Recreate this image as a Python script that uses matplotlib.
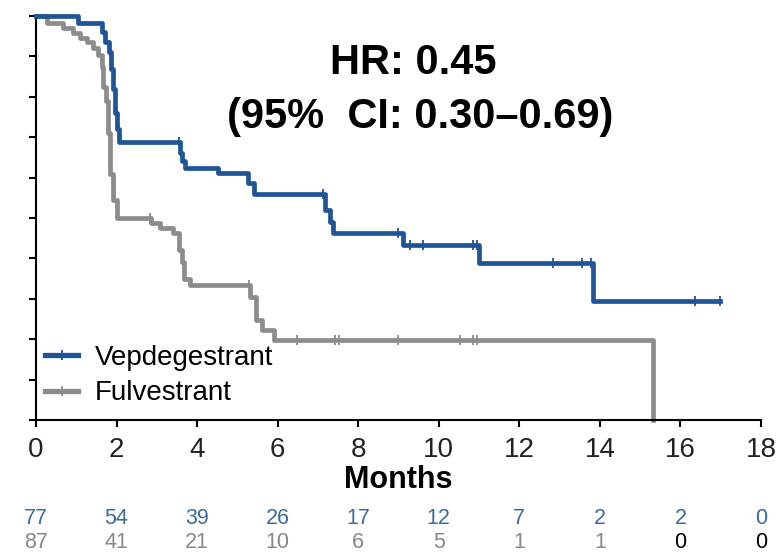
import matplotlib.pyplot as plt
import numpy as np
from matplotlib.lines import Line2D
import matplotlib.transforms as mtransforms

# Kaplan-Meier steps
vep_t = [0, 1.04, 1.65, 1.72, 1.80, 1.85, 1.90, 1.95, 2.00, 2.05, 3.57, 3.62, 3.70,
         4.52, 5.26, 5.42, 7.17, 7.30, 7.37, 9.12, 11.0, 13.82, 16.97]
vep_s = [1.0, 0.983, 0.96, 0.935, 0.91, 0.87, 0.82, 0.76, 0.72, 0.688, 0.66, 0.64, 0.624,
         0.611, 0.587, 0.56, 0.52, 0.49, 0.463, 0.433, 0.389, 0.295, 0.295]
vep_cens = [3.55, 7.12, 8.98, 9.28, 9.6, 10.84, 10.95, 12.83, 13.55, 13.78, 16.35, 16.97]

ful_t = [0, 0.27, 0.67, 0.92, 1.09, 1.27, 1.41, 1.54, 1.64, 1.67, 1.74, 1.79, 1.84, 1.91,
         2.0, 2.85, 3.08, 3.40, 3.55, 3.62, 3.67, 3.82, 5.32, 5.45, 5.6, 5.9, 15.31]
ful_s = [1.0, 0.983, 0.97, 0.958, 0.945, 0.936, 0.92, 0.903, 0.874, 0.824, 0.79, 0.71, 0.61,
         0.545, 0.5, 0.487, 0.475, 0.462, 0.42, 0.39, 0.35, 0.334, 0.305, 0.247, 0.223,
         0.198, 0.0]
ful_cens = [2.83, 5.3, 6.47, 7.42, 7.52, 8.99, 10.52, 10.84, 10.94]

risk_months = [0, 2, 4, 6, 8, 10, 12, 14, 16, 18]
vep_risk = [77, 54, 39, 26, 17, 12, 7, 2, 2, 0]
ful_risk = [87, 41, 21, 10, 6, 5, 1, 1, 0, 0]

blue = '#1f5596'
gray = '#8c8c8c'
font = 'Liberation Sans'


def surv_at(times, surv, t):
    idx = np.searchsorted(times, t, side='right') - 1
    return np.asarray(surv)[idx]


fig = plt.figure(figsize=(7.81, 5.53), dpi=100)
ax = fig.add_axes([36 / 781, 1 - 420 / 553, 725 / 781, 404 / 553])

ax.step(ful_t, ful_s, where='post', color=gray, lw=3.4, clip_on=False, zorder=2)
ax.plot(ful_cens, surv_at(ful_t, ful_s, ful_cens), ls='none', marker='|',
        ms=7, mew=1.3, color=gray, clip_on=False, zorder=2)
ax.step(vep_t, vep_s, where='post', color=blue, lw=3.4, clip_on=False, zorder=3)
ax.plot(vep_cens, surv_at(vep_t, vep_s, vep_cens), ls='none', marker='|',
        ms=7, mew=1.3, color=blue, clip_on=False, zorder=3)

ax.set_xlim(0, 18)
ax.set_ylim(0, 1)
ax.spines['top'].set_visible(False)
ax.spines['right'].set_visible(False)
ax.spines['left'].set_linewidth(1.5)
ax.spines['bottom'].set_linewidth(1.5)
ax.set_xticks(risk_months)
ax.set_yticks(np.arange(0, 1.01, 0.1))
ax.set_yticklabels([])
ax.tick_params(axis='both', direction='out', length=5, width=1.5)
ax.tick_params(axis='x', pad=7)
for lab in ax.get_xticklabels():
    lab.set_fontfamily(font)
    lab.set_fontsize(20)
    lab.set_color('#222222')

ax.set_xlabel('Months', fontfamily=font, fontweight='bold', fontsize=22, labelpad=2)

ax.text(0.52, 0.884, 'HR: 0.45', transform=ax.transAxes, ha='center', va='center',
        fontsize=30, fontweight='bold', fontfamily=font)
ax.text(0.53, 0.75, '(95%  CI: 0.30\u20130.69)', transform=ax.transAxes, ha='center',
        va='center', fontsize=30, fontweight='bold', fontfamily=font)

handles = [Line2D([0], [0], color=blue, lw=3.8, marker='|', ms=7, mew=1.3),
           Line2D([0], [0], color=gray, lw=3.8, marker='|', ms=7, mew=1.3)]
ax.legend(handles, ['Vepdegestrant', 'Fulvestrant'], loc='center left',
          bbox_to_anchor=(9 / 725, 0.11), frameon=False, borderpad=0,
          borderaxespad=0, handlelength=1.19, handletextpad=0.6, labelspacing=0.35,
          prop={'family': font, 'size': 20})

trans = mtransforms.blended_transform_factory(ax.transData, ax.transAxes)
for m, v, f in zip(risk_months, vep_risk, ful_risk):
    ax.text(m, (420 - 519) / 404, str(v), transform=trans, ha='center', va='center',
            fontsize=15.5, color='#3d6b9e', fontfamily=font)
    ax.text(m, (420 - 543) / 404, str(f), transform=trans, ha='center', va='center',
            fontsize=15.5, color='#888888' if m < 16 else 'black', fontfamily=font)

fig.savefig('out.png', dpi=100)
